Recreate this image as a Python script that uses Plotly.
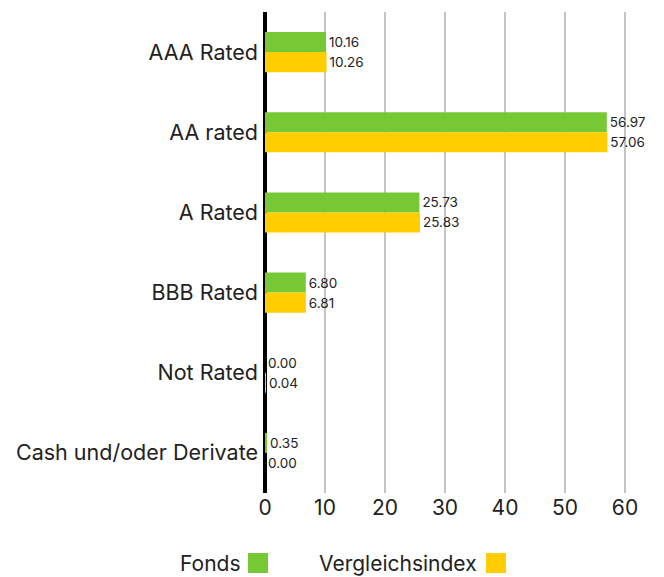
import plotly.graph_objects as go

categories = ["AAA Rated", "AA rated", "A Rated", "BBB Rated", "Not Rated", "Cash und/oder Derivate"]
fonds = [10.16, 56.97, 25.73, 6.80, 0.00, 0.35]
vergleich = [10.26, 57.06, 25.83, 6.81, 0.04, 0.00]
tick_vals = [0, 10, 20, 30, 40, 50, 60]

FONT = "Inter, Noto Sans, sans-serif"
GREEN = "#76c934"
YELLOW = "#ffcd00"

# page body margin of 8px -> figure is shifted, so size accordingly
OFF = 8
W, H = 664 - OFF, 577 - OFF
L, R, T, B = 265 - OFF, 24, 12 - OFF, 84
PW = W - L - R
PH = H - T - B

fig = go.Figure()
fig.add_trace(go.Bar(y=categories, x=fonds, orientation="h", name="Fonds",
                     marker=dict(color=GREEN, line=dict(width=0)),
                     text=[f"{v:.2f}" for v in fonds], textposition="outside",
                     textfont=dict(size=13.5, color="#222", family=FONT), cliponaxis=False))
fig.add_trace(go.Bar(y=categories, x=vergleich, orientation="h", name="Vergleichsindex",
                     marker=dict(color=YELLOW, line=dict(width=0)),
                     text=[f"{v:.2f}" for v in vergleich], textposition="outside",
                     textfont=dict(size=13.5, color="#222", family=FONT), cliponaxis=False))

fig.update_layout(
    width=W, height=H,
    margin=dict(l=L, r=R, t=T, b=B, autoexpand=False),
    barmode="group", bargap=0.5, bargroupgap=0,
    plot_bgcolor="white", paper_bgcolor="white",
    showlegend=False,
    font=dict(family=FONT, color="#222"),
)
fig.update_xaxes(range=[0, 62.5], tickvals=tick_vals, showgrid=True, gridcolor="#c4c4c4", gridwidth=2,
                 zeroline=True, zerolinecolor="black", zerolinewidth=4,
                 tickfont=dict(size=21, family=FONT, color="#222"), ticks="", showline=False,
                 automargin=False)
fig.update_yaxes(autorange="reversed", tickfont=dict(size=21.5, family=FONT, color="#222"),
                 ticks="", showline=False, ticklabelstandoff=6, automargin=False)

# manual legend (text followed by swatch), positions in page pixels
legend = [("Fonds", GREEN, 243, 248), ("Vergleichsindex", YELLOW, 479, 486)]
plot_bottom = 493
for name, col, tx, sx in legend:
    fig.add_annotation(x=(tx - 265) / PW, y=-(563 - plot_bottom) / PH,
                       xref="paper", yref="paper", xanchor="right", yanchor="middle",
                       text=name, showarrow=False, font=dict(size=21, family=FONT, color="#222"))
    fig.add_shape(type="rect", xref="paper", yref="paper",
                  x0=(sx - 265) / PW, x1=(sx + 20 - 265) / PW,
                  y0=-(573 - plot_bottom) / PH, y1=-(553 - plot_bottom) / PH,
                  fillcolor=col, line=dict(width=0))

fig.write_html("out.html")
